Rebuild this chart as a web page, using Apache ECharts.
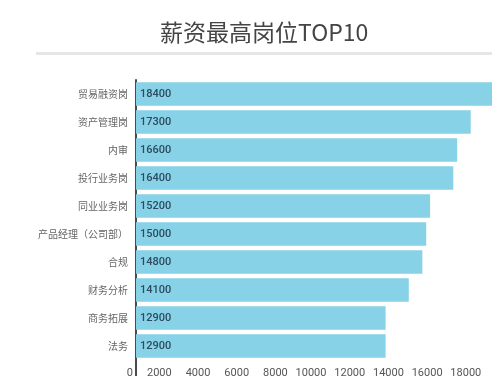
<!DOCTYPE html>
<html>
<head>
<meta charset="utf-8">
<script src="https://cdn.jsdelivr.net/npm/echarts@6/dist/echarts.min.js"></script>
<style>html,body{margin:0;padding:0;background:#fff;}#c{width:499px;height:390px;}</style>
</head>
<body>
<div id="c"></div>
<script>
const titleText = '薪资最高岗位TOP10';
const categories = ['贸易融资岗','资产管理岗','内审','投行业务岗','同业业务岗','产品经理（公司部）','合规','财务分析','商务拓展','法务'];
const values = [18400, 17300, 16600, 16400, 15200, 15000, 14800, 14100, 12900, 12900];
const xMax = 18400;
const xInterval = 2000;

const chart = echarts.init(document.getElementById('c'), null, {renderer: 'canvas'});
const option = {
  backgroundColor: '#ffffff',
  animation: false,
  title: {
    text: titleText,
    left: 155,
    top: 16,
    textStyle: {fontFamily: 'Noto Sans CJK SC', fontSize: 23, fontWeight: 'normal', color: '#444'}
  },
  grid: {left: 136, right: 7, top: 80, bottom: 30, containLabel: false},
  xAxis: {
    type: 'value', min: 0, max: xMax, interval: xInterval,
    axisLine: {show: false}, axisTick: {show: false}, splitLine: {show: false},
    axisLabel: {
      showMaxLabel: false, align: 'right', margin: 8, padding: [0, 3, 0, 0],
      color: '#555', fontSize: 11, fontFamily: 'Roboto',
      formatter: function (v) { return String(v); }
    }
  },
  yAxis: {
    type: 'category', data: categories, inverse: true,
    axisLine: {show: true, lineStyle: {color: '#4a4a4a', width: 2}},
    axisTick: {show: false},
    axisLabel: {color: '#666', fontSize: 10, margin: 8, fontFamily: 'Noto Sans CJK SC'}
  },
  series: [{
    type: 'bar', data: values, barCategoryGap: '16%',
    itemStyle: {color: '#87d2e7'},
    label: {show: true, position: 'insideLeft', distance: 4, color: '#2e4a60', fontSize: 11, fontWeight: 500, fontFamily: 'Roboto'}
  }],
  graphic: [
    {type: 'rect', shape: {x: 36, y: 52, width: 456, height: 3}, style: {fill: '#e6e6e6'}, silent: true},
    {type: 'line', shape: {x1: 136, y1: 355, x2: 136, y2: 376}, style: {stroke: '#4a4a4a', lineWidth: 2}, silent: true}
  ]
};
chart.setOption(option);
</script>
</body>
</html>
